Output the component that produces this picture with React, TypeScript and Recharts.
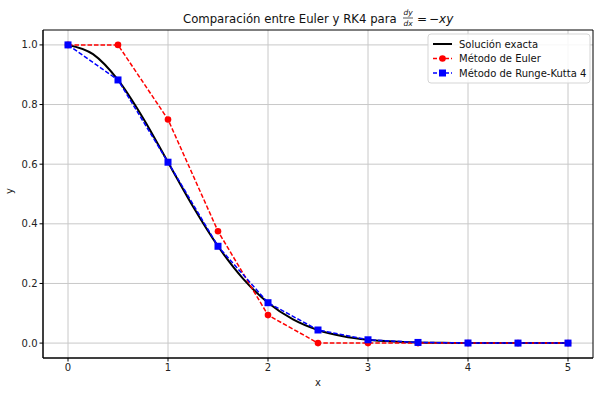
import {
  LineChart,
  Line,
  XAxis,
  YAxis,
  CartesianGrid,
  ReferenceArea,
} from "recharts";

// dy/dx = -xy, y(0) = 1, step h = 0.5
const exactX = [0, 0.25, 0.5, 0.75, 1, 1.25, 1.5, 1.75, 2, 2.25, 2.5, 2.75, 3, 3.25, 3.5, 3.75, 4, 4.25, 4.5, 4.75, 5];
const exactY = [1, 0.969, 0.8825, 0.7548, 0.6065, 0.4578, 0.3247, 0.2163, 0.1353, 0.0796, 0.0439, 0.0228, 0.0111, 0.0051, 0.0022, 0.0009, 0.0003, 0.0001, 0.00004, 0.00001, 0];

const stepX = [0, 0.5, 1, 1.5, 2, 2.5, 3, 3.5, 4, 4.5, 5];
const eulerY = [1, 1, 0.75, 0.375, 0.0938, 0, 0, 0, 0, 0, 0];
const rk4Y = [1, 0.8825, 0.6066, 0.3247, 0.1354, 0.0439, 0.0111, 0.0022, 0.0003, 0.00004, 0];

const xTicks = [0, 1, 2, 3, 4, 5];
const yTicks = [0, 0.2, 0.4, 0.6, 0.8, 1.0];

const exactData = exactX.map((x, i) => ({ x, y: exactY[i] }));
const eulerData = stepX.map((x, i) => ({ x, y: eulerY[i] }));
const rk4Data = stepX.map((x, i) => ({ x, y: rk4Y[i] }));

const font = "'DejaVu Sans', sans-serif";
const tick = { fontSize: 10, fill: "#222", fontFamily: font };

const SquareDot = (props: any) => {
  const { cx, cy } = props;
  if (cx == null || cy == null) return null;
  return <rect x={cx - 3.5} y={cy - 3.5} width={7} height={7} fill="#0000ff" />;
};

function Legend() {
  const rows = [
    { label: "Solución exacta", color: "#000", dash: undefined, marker: null },
    { label: "Método de Euler", color: "#ff0000", dash: "4 2", marker: "circle" },
    { label: "Método de Runge-Kutta 4", color: "#0000ff", dash: "4 2", marker: "square" },
  ];
  return (
    <g fontFamily={font} fontSize={10}>
      <rect x={428} y={34} width={162} height={49} rx={3} fill="#fff" fillOpacity={0.85} stroke="#d5d5d5" />
      {rows.map((r, i) => {
        const cy = 44 + i * 14.5;
        return (
          <g key={r.label}>
            <line x1={433} x2={452} y1={cy} y2={cy} stroke={r.color} strokeWidth={r.marker ? 1.5 : 2} strokeDasharray={r.dash} />
            {r.marker === "circle" && <circle cx={442.5} cy={cy} r={3.3} fill={r.color} />}
            {r.marker === "square" && <rect x={439} y={cy - 3.5} width={7} height={7} fill={r.color} />}
            <text x={459} y={cy + 3.5} fill="#111">{r.label}</text>
          </g>
        );
      })}
    </g>
  );
}

export default function App() {
  return (
    <div style={{ position: "absolute", left: 0, top: 0, width: 600, height: 395, background: "#fff" }}>
      <LineChart width={600} height={395} margin={{ top: 30, right: 7, bottom: 0, left: 0 }}>
        <CartesianGrid stroke="#c8c8c8" strokeWidth={1} verticalValues={xTicks} horizontalValues={yTicks} />
        <XAxis
          type="number"
          dataKey="x"
          domain={[-0.25, 5.25]}
          ticks={xTicks}
          allowDataOverflow
          height={37}
          tick={tick}
          tickSize={3.5}
          tickLine={{ stroke: "#000" }}
          axisLine={{ stroke: "#000" }}
          label={{ value: "x", position: "insideBottom", offset: 9, fontSize: 10, fill: "#222", fontFamily: font }}
        />
        <YAxis
          type="number"
          domain={[-0.05, 1.05]}
          ticks={yTicks}
          allowDataOverflow
          width={43}
          tick={tick}
          tickSize={3.5}
          tickFormatter={(v: number) => v.toFixed(1)}
          tickLine={{ stroke: "#000" }}
          axisLine={{ stroke: "#000" }}
          label={{ value: "y", angle: -90, position: "insideLeft", offset: 9, fontSize: 10, fill: "#222", fontFamily: font }}
        />
        <Line
          data={exactData}
          dataKey="y"
          type="monotone"
          stroke="#000"
          strokeWidth={2}
          dot={false}
          isAnimationActive={false}
        />
        <Line
          data={eulerData}
          dataKey="y"
          type="linear"
          stroke="#ff0000"
          strokeWidth={1.5}
          strokeDasharray="4.5 2"
          dot={{ r: 3.3, fill: "#ff0000", stroke: "none", strokeDasharray: "" }}
          isAnimationActive={false}
        />
        <Line
          data={rk4Data}
          dataKey="y"
          type="linear"
          stroke="#0000ff"
          strokeWidth={1.5}
          strokeDasharray="4.5 2"
          dot={<SquareDot />}
          isAnimationActive={false}
        />
        <ReferenceArea
          x1={-0.25}
          x2={5.25}
          y1={-0.05}
          y2={1.05}
          fill="none"
          stroke="#000"
          strokeWidth={1}
          ifOverflow="visible"
        />
        <text x={183} y={23} fontFamily={font} fontSize={11.7} fill="#111">
          Comparación entre Euler y RK4 para
        </text>
        <g fontFamily={font} fill="#111" fontStyle="italic">
          <text x={408} y={15} fontSize={7.5} textAnchor="middle">dy</text>
          <line x1={403} x2={413} y1={18} y2={18} stroke="#111" strokeWidth={0.7} />
          <text x={408} y={26} fontSize={7.5} textAnchor="middle">dx</text>
          <text x={417} y={23} fontSize={12} fontStyle="normal">=</text>
          <text x={429} y={23} fontSize={12} fontStyle="normal">−<tspan fontStyle="italic">xy</tspan></text>
        </g>
        <Legend />
      </LineChart>
    </div>
  );
}
